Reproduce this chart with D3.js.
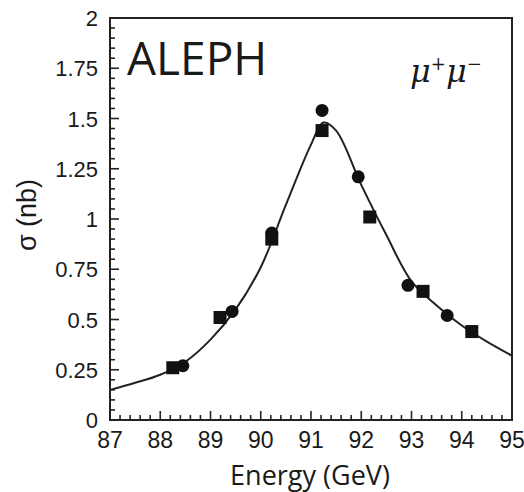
<!DOCTYPE html>
<html>
<head>
<meta charset="utf-8">
<script src="https://cdn.jsdelivr.net/npm/d3@7"></script>
<style>
  body { margin: 0; background: #fff; }
  svg text { fill: #1a1a1a; }
</style>
</head>
<body>
<div id="chart"></div>
<script>
// fitted line shape
var curveE = [87.0, 87.5, 88.0, 88.5, 89.0, 89.5, 90.0, 90.5, 91.0, 91.25, 91.5, 92.0, 92.5, 93.0, 93.5, 94.0, 94.5, 95.0];
var curveS = [0.15, 0.185, 0.225, 0.29, 0.40, 0.55, 0.76, 1.07, 1.37, 1.48, 1.44, 1.17, 0.92, 0.69, 0.57, 0.47, 0.39, 0.32];

// measured points (two data sets: circles and squares)
var circleE = [88.45, 89.43, 90.22, 91.22, 91.94, 92.93, 93.71];
var circleS = [0.27, 0.54, 0.93, 1.54, 1.21, 0.67, 0.52];
var squareE = [88.25, 89.19, 90.22, 91.22, 92.17, 93.23, 94.20];
var squareS = [0.26, 0.51, 0.90, 1.44, 1.01, 0.64, 0.44];

var xTicks = [87, 88, 89, 90, 91, 92, 93, 94, 95];
var yTicks = [0, 0.25, 0.5, 0.75, 1, 1.25, 1.5, 1.75, 2];
var yTickLabels = ["0", "0.25", "0.5", "0.75", "1", "1.25", "1.5", "1.75", "2"];

var margin = {top: 18, right: 12, bottom: 72, left: 110},
    width = 402,
    height = 402;

var svg = d3.select("#chart").append("svg")
    .attr("width", 524)
    .attr("height", 492);

var g = svg.append("g")
    .attr("transform", "translate(" + margin.left + "," + margin.top + ")");

var x = d3.scaleLinear().domain([87, 95]).range([0, width]);
var y = d3.scaleLinear().domain([0, 2]).range([height, 0]);

// minor ticks (inward)
var xMinor = d3.range(87, 95.001, 0.2);
var yMinor = d3.range(0, 2.001, 0.05);

g.selectAll(".xminor").data(xMinor).enter().append("line")
    .attr("x1", d => x(d)).attr("x2", d => x(d))
    .attr("y1", height).attr("y2", (d, i) => height - (i % 5 == 0 ? 9 : 5))
    .attr("stroke", "#222").attr("stroke-width", 1.6);

g.selectAll(".yminor").data(yMinor).enter().append("line")
    .attr("y1", d => y(d)).attr("y2", d => y(d))
    .attr("x1", 0).attr("x2", (d, i) => (i % 5 == 0 ? 9 : 5))
    .attr("stroke", "#222").attr("stroke-width", 1.6);

// frame
g.append("rect")
    .attr("x", 0).attr("y", 0)
    .attr("width", width).attr("height", height)
    .attr("fill", "none").attr("stroke", "#222").attr("stroke-width", 2);

// tick labels
g.selectAll(".xlab").data(xTicks).enter().append("text")
    .attr("x", d => x(d)).attr("y", height + 28)
    .attr("text-anchor", "middle")
    .style("font-family", "Liberation Sans, Arial, sans-serif")
    .style("font-size", "23px")
    .text(d => d);

g.selectAll(".ylab").data(yTicks).enter().append("text")
    .attr("x", -12).attr("y", d => y(d) + 8)
    .attr("text-anchor", "end")
    .style("font-family", "Liberation Sans, Arial, sans-serif")
    .style("font-size", "22px")
    .text((d, i) => yTickLabels[i]);

// axis titles
svg.append("text")
    .attr("x", 310).attr("y", 485)
    .attr("text-anchor", "middle")
    .style("font-family", "Open Sans, Lato, sans-serif")
    .style("font-size", "27px")
    .text("Energy (GeV)");

svg.append("text")
    .attr("transform", "translate(36,215)rotate(-90)")
    .attr("text-anchor", "middle")
    .style("font-family", "Liberation Sans, Arial, sans-serif")
    .style("font-size", "27px")
    .text("σ (nb)");

// fit curve
var line = d3.line()
    .x(d => x(d[0]))
    .y(d => y(d[1]))
    .curve(d3.curveCatmullRom);

g.append("path")
    .datum(curveE.map((e, i) => [e, curveS[i]]))
    .attr("fill", "none")
    .attr("stroke", "#222")
    .attr("stroke-width", 2)
    .attr("d", line);

// data points
g.selectAll(".sq").data(squareE).enter().append("rect")
    .attr("x", d => x(d) - 6.5)
    .attr("y", (d, i) => y(squareS[i]) - 6.5)
    .attr("width", 13).attr("height", 13)
    .attr("fill", "#111");

g.selectAll(".ci").data(circleE).enter().append("circle")
    .attr("cx", d => x(d))
    .attr("cy", (d, i) => y(circleS[i]))
    .attr("r", 6.5)
    .attr("fill", "#111");

// labels inside the frame
svg.append("text")
    .attr("x", 127).attr("y", 75)
    .style("font-family", "Open Sans, Lato, sans-serif")
    .style("font-size", "46px")
    .text("ALEPH");

var mu = svg.append("text")
    .attr("x", 410).attr("y", 82)
    .style("font-family", "DejaVu Serif, Liberation Serif, serif")
    .style("font-style", "italic")
    .style("font-size", "32px");
mu.append("tspan").text("μ");
mu.append("tspan").attr("dy", -12).style("font-size", "18px").text("+");
mu.append("tspan").attr("dy", 12).text("μ");
mu.append("tspan").attr("dy", -12).style("font-size", "18px").text("−");
</script>
</body>
</html>
